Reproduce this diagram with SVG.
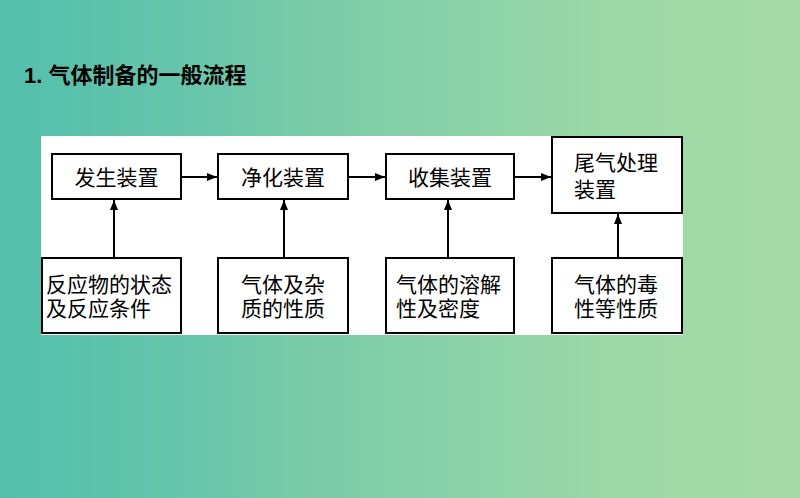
<svg xmlns="http://www.w3.org/2000/svg" width="800" height="498" viewBox="0 0 800 498">
<defs>
<linearGradient id="bg" x1="0" y1="0" x2="1" y2="0">
<stop offset="0" stop-color="#52bfab"/>
<stop offset="0.25" stop-color="#68c6aa"/>
<stop offset="0.5" stop-color="#84cfa8"/>
<stop offset="0.75" stop-color="#9ad8a6"/>
<stop offset="1" stop-color="#a5daa6"/>
</linearGradient>
<marker id="ah" viewBox="0 0 10 8" refX="10" refY="4" markerWidth="10" markerHeight="8" markerUnits="userSpaceOnUse" orient="auto">
<path d="M0,0 L10,4 L0,8 Z" fill="#000"/>
</marker>
</defs>
<style>
.box{fill:#fff;stroke:#000;stroke-width:2}
.t{font-family:"Liberation Sans","Noto Sans CJK SC",sans-serif;font-size:21px;fill:#000}
.c{stroke:#000;stroke-width:2;fill:none;marker-end:url(#ah)}
.title{font-family:"Liberation Sans","Noto Sans CJK SC",sans-serif;font-size:22px;font-weight:bold;fill:#000}
</style>
<rect x="0" y="0" width="800" height="498" fill="url(#bg)"/>
<text class="title" x="24" y="83">1. 气体制备的一般流程</text>
<rect x="41" y="136" width="642" height="199" fill="#fff"/>
<g id="n1"><rect class="box" x="52" y="154" width="129" height="45"/><text class="t" x="116.5" y="185" text-anchor="middle">发生装置</text></g>
<g id="n2"><rect class="box" x="218" y="154" width="130" height="45"/><text class="t" x="283" y="185" text-anchor="middle">净化装置</text></g>
<g id="n3"><rect class="box" x="386" y="154" width="128" height="45"/><text class="t" x="450" y="185" text-anchor="middle">收集装置</text></g>
<g id="n4"><rect class="box" x="552" y="137" width="130" height="76"/><text class="t" x="574" y="170">尾气处理</text><text class="t" x="574" y="197">装置</text></g>
<g id="n5"><rect class="box" x="42" y="258" width="139" height="75"/><text class="t" x="46" y="292">反应物的状态</text><text class="t" x="46" y="316">及反应条件</text></g>
<g id="n6"><rect class="box" x="218" y="258" width="130" height="75"/><text class="t" x="241" y="292">气体及杂</text><text class="t" x="241" y="316">质的性质</text></g>
<g id="n7"><rect class="box" x="386" y="258" width="128" height="75"/><text class="t" x="396" y="292">气体的溶解</text><text class="t" x="396" y="316">性及密度</text></g>
<g id="n8"><rect class="box" x="552" y="258" width="130" height="75"/><text class="t" x="574" y="292">气体的毒</text><text class="t" x="574" y="316">性等性质</text></g>
<g id="connectors">
<line class="c" x1="181" y1="177" x2="217" y2="177"/>
<line class="c" x1="348" y1="177" x2="385" y2="177"/>
<line class="c" x1="514" y1="177" x2="551" y2="177"/>
<line class="c" x1="114" y1="257" x2="114" y2="200"/>
<line class="c" x1="284" y1="257" x2="284" y2="200"/>
<line class="c" x1="448" y1="257" x2="448" y2="200"/>
<line class="c" x1="618" y1="257" x2="618" y2="214"/>
</g>
</svg>
